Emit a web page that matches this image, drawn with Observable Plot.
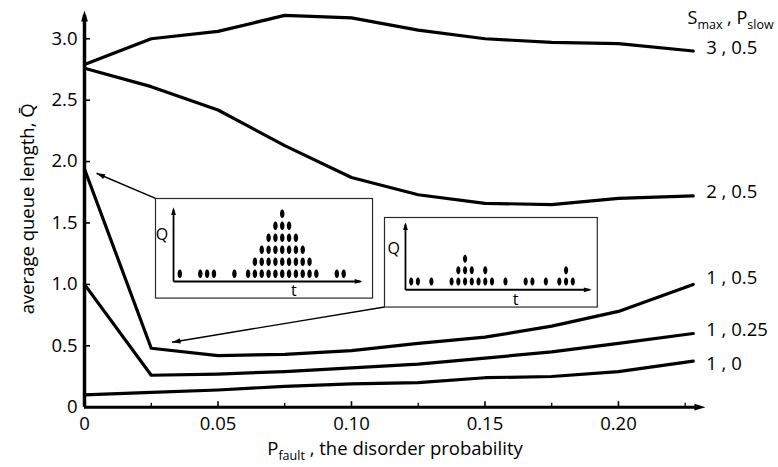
<!DOCTYPE html>
<html><head><meta charset="utf-8">
<script src="https://cdn.jsdelivr.net/npm/d3@7"></script>
<script src="https://cdn.jsdelivr.net/npm/@observablehq/plot@0.6"></script>
<style>
html,body{margin:0;padding:0;background:#fff;}
#chart{position:relative;width:778px;height:467px;overflow:hidden;}
#chart svg{position:absolute;left:0;top:0;}
</style></head><body><div id="chart"></div>
<script>
// ---------- data ----------
const pFault = [0, 0.025, 0.05, 0.075, 0.10, 0.125, 0.15, 0.175, 0.20, 0.228];
const seriesNames = ["3 , 0.5", "2 , 0.5", "1 , 0.5", "1 , 0.25", "1 , 0"];
const q_3_05  = [2.79, 3.00, 3.06, 3.19, 3.17, 3.07, 3.00, 2.97, 2.96, 2.90];
const q_2_05  = [2.76, 2.61, 2.42, 2.13, 1.87, 1.73, 1.66, 1.65, 1.70, 1.72];
const q_1_05  = [1.94, 0.48, 0.42, 0.43, 0.46, 0.52, 0.57, 0.66, 0.78, 1.00];
const q_1_025 = [1.00, 0.26, 0.27, 0.29, 0.32, 0.35, 0.40, 0.45, 0.52, 0.60];
const q_1_0   = [0.10, 0.12, 0.14, 0.17, 0.19, 0.20, 0.24, 0.25, 0.29, 0.375];
const seriesValues = [q_3_05, q_2_05, q_1_05, q_1_025, q_1_0];
const labelQ = [2.92, 1.75, 1.05, 0.63, 0.355];   // where each end label sits

const xTicks = [0, 0.05, 0.10, 0.15, 0.20];
const xTickLabels = ["0", "0.05", "0.10", "0.15", "0.20"];
const xMinorTicks = [0.025, 0.075, 0.125, 0.175, 0.225];
const yTicks = [0, 0.5, 1.0, 1.5, 2.0, 2.5, 3.0];
const yTickLabels = ["0", "0.5", "1.0", "1.5", "2.0", "2.5", "3.0"];

const xTitle = "Pfault , the disorder probability";
const yTitle = "average queue length, Q\u0304";
const legendTitle = "Smax , Pslow";

// inset time series: column position t and stack height Q
const inset1T = [0, 3, 4, 5, 8, 10, 11, 12, 13, 14, 15, 16, 17, 18, 19, 20, 23, 24];
const inset1Q = [1, 1, 1, 1, 1, 1, 2, 3, 4, 5, 6, 5, 4, 3, 2, 1, 1, 1];
const inset2T = [0, 1, 3, 6, 7, 8, 9, 10, 11, 12, 14, 17, 18, 20, 22, 23, 24];
const inset2Q = [1, 1, 1, 1, 2, 3, 2, 1, 2, 1, 1, 1, 1, 1, 1, 2, 1];

// ---------- layout (annotation placement in main data units) ----------
const xMax = 0.2326, yMax = 3.23;
const inset1Box = {x1: 0.0266, x2: 0.1079, y1: 0.889, y2: 1.70};
const inset2Box = {x1: 0.1124, x2: 0.1921, y1: 0.816, y2: 1.545};
const arrowTargets = [{x: 0.0045, y: 1.905}, {x: 0.0328, y: 0.529}];

const FONT = "'Open Sans', sans-serif";

// ---------- custom symbols ----------
const head = {draw(ctx, size) { const r = Math.sqrt(size / Math.PI);
  ctx.moveTo(0, 0); ctx.lineTo(-0.40 * r, 1.3 * r); ctx.lineTo(0.40 * r, 1.3 * r); ctx.closePath(); }};
const ellipse = {draw(ctx, size) { const r = Math.sqrt(size / Math.PI), rx = r * 0.52, ry = r, k = 0.5523;
  ctx.moveTo(rx, 0);
  ctx.bezierCurveTo(rx, k * ry, k * rx, ry, 0, ry);
  ctx.bezierCurveTo(-k * rx, ry, -rx, k * ry, -rx, 0);
  ctx.bezierCurveTo(-rx, -k * ry, -k * rx, -ry, 0, -ry);
  ctx.bezierCurveTo(k * rx, -ry, rx, -k * ry, rx, 0);
  ctx.closePath(); }};
const tickUp = {draw(ctx, size) { const r = Math.sqrt(size / Math.PI); ctx.moveTo(0, 0); ctx.lineTo(0, -r); }};
const tickRight = {draw(ctx, size) { const r = Math.sqrt(size / Math.PI); ctx.moveTo(0, 0); ctx.lineTo(r, 0); }};

// ---------- tables ----------
const rows = [];
seriesNames.forEach((name, i) => pFault.forEach((p, j) => rows.push({name, p, q: seriesValues[i][j]})));
const endLabels = seriesNames.map((name, i) => ({name, p: pFault[pFault.length - 1], q: labelQ[i]}));
const arrows = [
  {x1: inset1Box.x1, y1: inset1Box.y2, x2: arrowTargets[0].x, y2: arrowTargets[0].y},
  {x1: inset2Box.x1, y1: inset2Box.y1, x2: arrowTargets[1].x, y2: arrowTargets[1].y}
];

function mainOptions(extra) {
  return {
    width: 778, height: 467,
    marginLeft: 84, marginRight: 73, marginTop: 10, marginBottom: 60.3,
    x: {domain: [0, xMax]}, y: {domain: [0, yMax]},
    style: {fontFamily: FONT, fontSize: "18.5px", background: "white", color: "black", overflow: "visible"},
    marks: [
      Plot.axisX(xTicks, {tickSize: 0, tickPadding: 10, tickFormat: d => xTickLabels[xTicks.indexOf(d)], label: null, fontSize: 18.5}),
      Plot.axisY(yTicks, {tickSize: 0, tickPadding: 7, tickFormat: d => yTickLabels[yTicks.indexOf(d)], label: null, fontSize: 18.5}),
      Plot.ruleY([0], {x1: 0, x2: xMax - 0.002, stroke: "black", strokeWidth: 3}),
      Plot.ruleX([0], {y1: 0, y2: yMax - 0.04, stroke: "black", strokeWidth: 3.5}),
      Plot.dot(xTicks.slice(1), {x: d => d, y: 0, symbol: tickUp, r: 6, fill: "none", stroke: "black", strokeWidth: 1.6}),
      Plot.dot(xMinorTicks, {x: d => d, y: 0, symbol: tickUp, r: 4.5, fill: "none", stroke: "black", strokeWidth: 1.3}),
      Plot.dot(yTicks.slice(1), {x: 0, y: d => d, symbol: tickRight, r: 5.5, fill: "none", stroke: "black", strokeWidth: 1.6}),
      Plot.dot([{x: xMax, y: 0, a: 90}, {x: 0, y: yMax, a: 0}], {x: "x", y: "y", rotate: "a", symbol: head, r: 8.5, fill: "black", stroke: "none"}),
      Plot.line(rows, {x: "p", y: "q", z: "name", stroke: "black", strokeWidth: 3.2, strokeLinejoin: "round", strokeLinecap: "round"}),
      Plot.text(endLabels, {x: "p", y: "q", text: "name", textAnchor: "start", lineAnchor: "middle", dx: 13, fontSize: 18.5}),
      Plot.text([legendTitle], {frameAnchor: "top-right", textAnchor: "start", lineAnchor: "middle", dx: -18, dy: 8, fontSize: 18}),
      Plot.text([yTitle], {frameAnchor: "left", textAnchor: "middle", lineAnchor: "middle", dx: -56, rotate: -90, fontSize: 18.5}),
      Plot.text([xTitle], {frameAnchor: "bottom", textAnchor: "middle", lineAnchor: "middle", dy: 42, fontSize: 18.5}),
      Plot.link(arrows, {x1: "x1", y1: "y1", x2: "x2", y2: "y2", stroke: "black", strokeWidth: 1.4}),
      ...extra
    ]
  };
}

// first pass to read the scales
const pass0 = Plot.plot(mainOptions([]));
const sxo = pass0.scale("x"), syo = pass0.scale("y");
const sx = d3.scaleLinear(sxo.domain, sxo.range), sy = d3.scaleLinear(syo.domain, syo.range);

const heads = arrows.map(a => {
  const dx = sx(a.x2) - sx(a.x1), dy = sy(a.y2) - sy(a.y1);
  return {x: a.x2, y: a.y2, a: Math.atan2(dy, dx) * 180 / Math.PI + 90};
});
const main = Plot.plot(mainOptions([
  Plot.dot(heads, {x: "x", y: "y", rotate: "a", symbol: head, r: 6.5, fill: "black", stroke: "none"})
]));

function subscriptify(svg, content, parts, shift, subSize) {
  d3.select(svg).selectAll("text").filter(function() { return this.textContent === content; }).each(function() {
    const el = d3.select(this); el.text(null);
    let down = false;
    parts.forEach(([s, sub]) => {
      const ts = el.append("tspan").text(s);
      if (sub && !down) { ts.attr("dy", shift).attr("font-size", subSize); down = true; }
      else if (sub) { ts.attr("font-size", subSize); }
      else if (!sub && down) { ts.attr("dy", -shift); down = false; }
    });
  });
}
subscriptify(main, xTitle, [["P", 0], ["fault", 1], [" , the disorder probability", 0]], 5, 12.5);
subscriptify(main, legendTitle, [["S", 0], ["max", 1], [" , ", 0], ["P", 0], ["slow", 1]], 5, 12.5);

const chart = document.getElementById("chart");
chart.appendChild(main);

// ---------- insets ----------
function insetPlot(T, Q, box, cfg) {
  const dots = [];
  T.forEach((t, i) => { for (let r = 1; r <= Q[i]; r++) dots.push({t, r}); });
  const left = sx(box.x1), top = sy(box.y2);
  const w = sx(box.x2) - left, h = sy(box.y1) - top;
  const svg = Plot.plot({
    width: w, height: h, margin: 0,
    x: {domain: [0, 24], range: cfg.xr, axis: null}, y: {domain: [1, cfg.rows], range: cfg.yr, axis: null},
    style: {fontFamily: FONT, background: "transparent", color: "black", overflow: "visible"},
    marks: [
      Plot.frame({stroke: "#2a2a2a", strokeWidth: 1.2}),
      Plot.link([0], {x1: cfg.t0, x2: cfg.t1 - 0.3, y1: cfg.q0, y2: cfg.q0, stroke: "black", strokeWidth: 2}),
      Plot.link([0], {x1: cfg.t0, x2: cfg.t0, y1: cfg.q0, y2: cfg.q1 - 0.2, stroke: "black", strokeWidth: 1.8}),
      Plot.dot([{t: cfg.t1, r: cfg.q0, a: 90}, {t: cfg.t0, r: cfg.q1, a: 0}], {x: "t", y: "r", rotate: "a", symbol: head, r: 6, fill: "black", stroke: "none"}),
      Plot.dot(dots, {x: "t", y: "r", symbol: ellipse, r: cfg.dotR, fill: "black", stroke: "none"}),
      Plot.text(["Q"], {x: cfg.qLab[0], y: cfg.qLab[1], fontSize: 16}),
      Plot.text(["t"], {x: cfg.tLab[0], y: cfg.tLab[1], fontSize: 16})
    ]
  });
  svg.style.left = left + "px";
  svg.style.top = top + "px";
  return svg;
}
chart.appendChild(insetPlot(inset1T, inset1Q, inset1Box, {
  xr: [24.3, 188.2], rows: 6, yr: [75.3, 15.3],
  t0: -0.92, t1: 26.75, q0: 0.36, q1: 6.55, dotR: 4.3,
  qLab: [-2.6, 4.25], tLab: [16.7, -0.4]
}));
chart.appendChild(insetPlot(inset2T, inset2Q, inset2Box, {
  xr: [26.7, 188.3], rows: 3, yr: [64, 41.3],
  t0: -0.85, t1: 26.8, q0: 0.27, q1: 6.22, dotR: 4.0,
  qLab: [-2.6, 3.86], tLab: [15.5, -0.6]
}));
</script></body></html>
